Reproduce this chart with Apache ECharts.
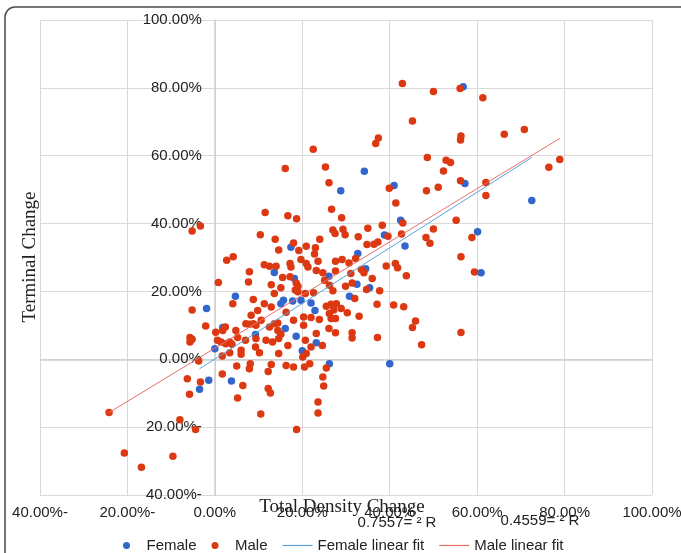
<!DOCTYPE html>
<html><head><meta charset="utf-8">
<script src="https://cdn.jsdelivr.net/npm/echarts@6/dist/echarts.min.js"></script>
<style>html,body{margin:0;padding:0;background:#fff}#chart{width:681px;height:553px}</style>
</head><body><div id="chart"></div>
<script>
// Values in percent: [Total Density Change, Terminal Change]
const femaleData = [
  [-1.9,15.0],[-1.4,-6.2],[-3.5,-8.8],[0.0,3.1],[1.8,9.4],[3.8,-6.4],
  [17.4,33.0],[13.6,25.6],[18.2,23.8],[4.7,18.6],[15.1,16.4],[15.7,17.4],[17.8,17.2],
  [19.7,17.4],[22.0,16.6],[22.9,14.4],[16.1,9.1],[18.6,6.8],[9.3,7.3],[23.2,4.9],[20.0,2.5],
  [32.7,31.2],[26.1,24.5],[34.5,26.7],[32.5,22.1],[35.4,21.1],[30.8,18.6],[26.2,-1.3],[40.0,-1.3],
  [28.8,49.7],[34.2,55.4],[38.8,36.6],
  [56.8,80.3],[57.2,51.8],[41.0,51.2],[72.5,46.8],[42.5,41.0],[60.1,37.6],
  [43.5,33.4],[60.9,25.5]
];
const maleData = [
  [-5.2,37.8],[-3.3,39.3],[-5.2,14.5],[-2.1,9.8],[-5.7,6.4],[-5.2,5.9],[-5.7,5.1],[-3.7,-0.5],
  [-6.3,-5.7],[-3.3,-6.7],[-5.8,-10.3],[-24.2,-15.7],[-8.0,-17.8],[-4.4,-20.7],[-20.7,-27.6],
  [-9.6,-28.6],[-16.8,-31.8],
  [22.5,61.9],[16.1,56.2],[25.3,56.7],[26.1,52.0],[36.8,63.6],[37.4,65.2],[26.7,44.2],[29.0,41.7],
  [11.5,43.3],[16.7,42.3],[18.7,41.4],[10.4,36.7],[13.8,35.4],[27.0,38.1],[27.5,37.1],[29.3,38.3],
  [29.8,36.7],[32.8,36.1],[35.0,38.6],[38.3,39.5],[39.9,50.4],[24.0,35.4],[34.8,33.8],[36.4,33.9],
  [37.3,34.6],[18.0,34.3],[39.6,36.3],
  [20.9,33.3],[23.0,32.9],[14.6,32.2],[22.8,31.0],[4.2,30.2],[2.7,29.2],[19.7,29.4],[23.6,28.9],
  [20.9,28.2],[21.3,27.2],[11.3,27.9],[12.5,27.4],[14.0,27.4],[17.2,28.2],[17.4,27.2],[7.9,25.8],
  [0.8,22.6],[7.7,22.8],[12.9,22.0],[15.5,24.1],[17.2,24.3],[18.6,22.5],[19.0,21.5],[18.4,20.4],
  [19.0,19.9],[15.1,21.1],[13.6,19.4],[24.7,25.5],[25.1,23.3],[20.7,19.4],[22.6,19.6],[4.1,16.4],
  [8.8,17.6],[11.3,16.4],[9.8,14.4],[12.9,15.4],[8.3,13.0],[16.3,13.9],[18.0,11.5],[20.3,12.5],
  [22.0,12.3],[23.9,11.7],[7.1,10.5],[7.9,10.3],[8.8,10.5],[9.4,10.0],[12.5,9.5],[13.6,10.5],
  [14.4,10.7],[14.4,8.5],[15.1,7.4],[11.7,5.6],[2.4,9.5],[1.8,8.5],[0.6,5.6],[1.4,5.1],[2.5,4.6],
  [3.4,5.1],[3.9,4.4],[5.2,6.4],[7.0,5.6],[9.4,6.1],[9.3,3.6],[13.2,5.1],[14.6,6.1],[16.7,4.1],
  [20.7,5.6],[22.0,3.6],[20.9,1.7],[24.6,4.1],[3.4,1.9],[6.0,2.7],[6.0,1.5],[10.2,1.9],[14.6,1.7],
  [20.1,0.7],[19.2,32.1],[23.2,26.2],[20.3,10.0],[23.2,7.6],[10.6,11.5],[4.8,8.5],[0.2,8.0],[1.7,1.0],
  [27.6,28.9],[29.1,29.4],[30.7,28.4],[32.2,29.7],[27.6,26.0],[31.1,25.3],[33.5,26.5],[34.1,25.5],
  [36.0,23.8],[39.2,27.5],[29.9,21.5],[31.4,22.5],[34.7,20.6],[37.7,20.2],[26.2,21.8],[27.0,20.2],
  [25.5,15.6],[26.6,16.2],[27.8,16.4],[28.9,15.0],[26.2,13.5],[27.2,14.5],[26.6,12.0],[27.6,12.0],
  [30.3,13.7],[32.0,17.9],[33.0,12.7],[37.1,16.2],[26.1,9.1],[27.6,7.8],[31.4,7.8],[31.4,6.3],[37.2,6.4],
  [42.9,81.3],[50.0,78.9],[56.1,79.8],[61.3,77.1],[45.2,70.2],[66.2,66.3],[70.8,67.7],[56.3,65.8],
  [56.2,64.6],[48.6,59.5],[52.9,58.7],[53.9,58.0],[52.3,55.5],[78.9,58.9],[76.4,56.6],[56.2,52.6],
  [51.1,50.7],[48.4,49.7],[62.0,52.1],[62.0,48.3],[41.4,46.1],[43.0,40.2],[50.0,38.4],[55.2,41.0],
  [42.7,36.9],[48.3,35.9],[49.2,34.2],[58.8,35.9],
  [56.3,30.2],[59.4,25.7],[41.3,28.2],[41.8,27.0],[43.8,24.6],[40.9,16.0],[43.2,15.5],[45.9,11.3],
  [45.2,9.4],[56.3,7.9],[47.3,4.3],
  [1.7,-4.3],[5.0,-2.0],[6.4,-7.7],[5.2,-11.4],[8.1,-1.3],[7.9,-2.8],[10.5,-16.1],[12.2,-3.6],
  [12.2,-8.6],[12.7,-9.9],[23.6,-12.6],[23.6,-15.8],[24.7,-5.2],[24.9,-7.9],[18.7,-20.7],[25.5,-2.6],
  [12.9,-1.5],[16.3,-1.8],[18.0,-2.3],[20.5,-2.3],[21.7,-1.3]
];
const femaleFit = [[-3.5,-2.8],[72.5,59.5]];
const maleFit = [[-24.2,-15.7],[78.9,65.1]];
const axisMin = -40, axisMax = 100, axisStep = 20;
const seriesNames = ['Female','Male','Female linear fit','Male linear fit'];
const r2Labels = ['0.7557= \u00B2 R','0.4559= \u00B2 R'];
const xTitle = 'Total Density Change';
const yTitle = 'Terminal Change';

function fmt(v){ return v < 0 ? Math.abs(v).toFixed(2) + '%-' : v.toFixed(2) + '%'; }
const sans = '"Liberation Sans", Arial, sans-serif';
const serif = '"Liberation Serif", "Times New Roman", serif';
const gridColor = '#d9d9d9';
const femaleColor = '#3366cc', maleColor = '#dc3912';
const femaleFitColor = '#5aa2d8', maleFitColor = '#e8706a';
const lineIcon = 'path://M0,0H40V1.6H0Z';

const chart = echarts.init(document.getElementById('chart'), null, {renderer:'canvas'});
function axis(margin){
  return {
    type:'value', min:axisMin, max:axisMax, interval:axisStep,
    axisLine:{show:true, onZero:true, lineStyle:{color:'#cfcfcf', width:1.5}},
    axisTick:{show:false},
    splitLine:{show:true, lineStyle:{color:gridColor, width:1}},
    axisLabel:{formatter:fmt, color:'#222', fontSize:15, fontFamily:sans, margin:margin}
  };
}
chart.setOption({
  animation:false,
  backgroundColor:'#fff',
  grid:{left:40, right:29, top:20, bottom:58, containLabel:false, outerBoundsMode:'none'},
  xAxis:axis(10),
  yAxis:Object.assign(axis(13), {offset:0}),
  legend:{
    left:118, top:533, itemGap:15, itemWidth:30, itemHeight:7, symbolKeepAspect:true,
    textStyle:{color:'#222', fontSize:15, fontFamily:sans},
    data:[
      {name:seriesNames[0], icon:'circle'},
      {name:seriesNames[1], icon:'circle'},
      {name:seriesNames[2], icon:lineIcon},
      {name:seriesNames[3], icon:lineIcon}
    ]
  },
  series:[
    {name:seriesNames[0], type:'scatter', data:femaleData, symbolSize:7.5, itemStyle:{color:femaleColor, opacity:1}, z:2},
    {name:seriesNames[1], type:'scatter', data:maleData, symbolSize:7.5, itemStyle:{color:maleColor, opacity:1}, z:3},
    {name:seriesNames[2], type:'line', data:femaleFit, symbol:'none', showSymbol:false, lineStyle:{color:femaleFitColor, width:1}, itemStyle:{color:femaleFitColor}, z:4},
    {name:seriesNames[3], type:'line', data:maleFit, symbol:'none', showSymbol:false, lineStyle:{color:maleFitColor, width:1}, itemStyle:{color:maleFitColor}, z:4}
  ],
  graphic:[
    {type:'rect', silent:true, z:-10, shape:{x:5, y:7, width:720, height:620, r:10}, style:{fill:'none', stroke:'#4a4a4a', lineWidth:1.5}},
    {type:'text', silent:true, x:342, y:507, style:{text:xTitle, font:'19px ' + serif, fill:'#222', textAlign:'center', textVerticalAlign:'middle'}},
    {type:'text', silent:true, x:30, y:257, rotation:Math.PI/2, style:{text:yTitle, font:'19px ' + serif, fill:'#222', textAlign:'center', textVerticalAlign:'middle'}},
    {type:'text', silent:true, x:397, y:523, style:{text:r2Labels[0], font:'15px ' + sans, fill:'#222', textAlign:'center', textVerticalAlign:'middle'}},
    {type:'text', silent:true, x:540, y:521, style:{text:r2Labels[1], font:'15px ' + sans, fill:'#222', textAlign:'center', textVerticalAlign:'middle'}}
  ]
});
// Put the y axis (and its labels) on x = 0, using the x axis scale.
const xZeroPx = chart.convertToPixel({xAxisIndex:0}, 0);
const xMinPx = chart.convertToPixel({xAxisIndex:0}, axisMin);
chart.setOption({yAxis:{offset: xMinPx - xZeroPx}});
</script></body></html>
